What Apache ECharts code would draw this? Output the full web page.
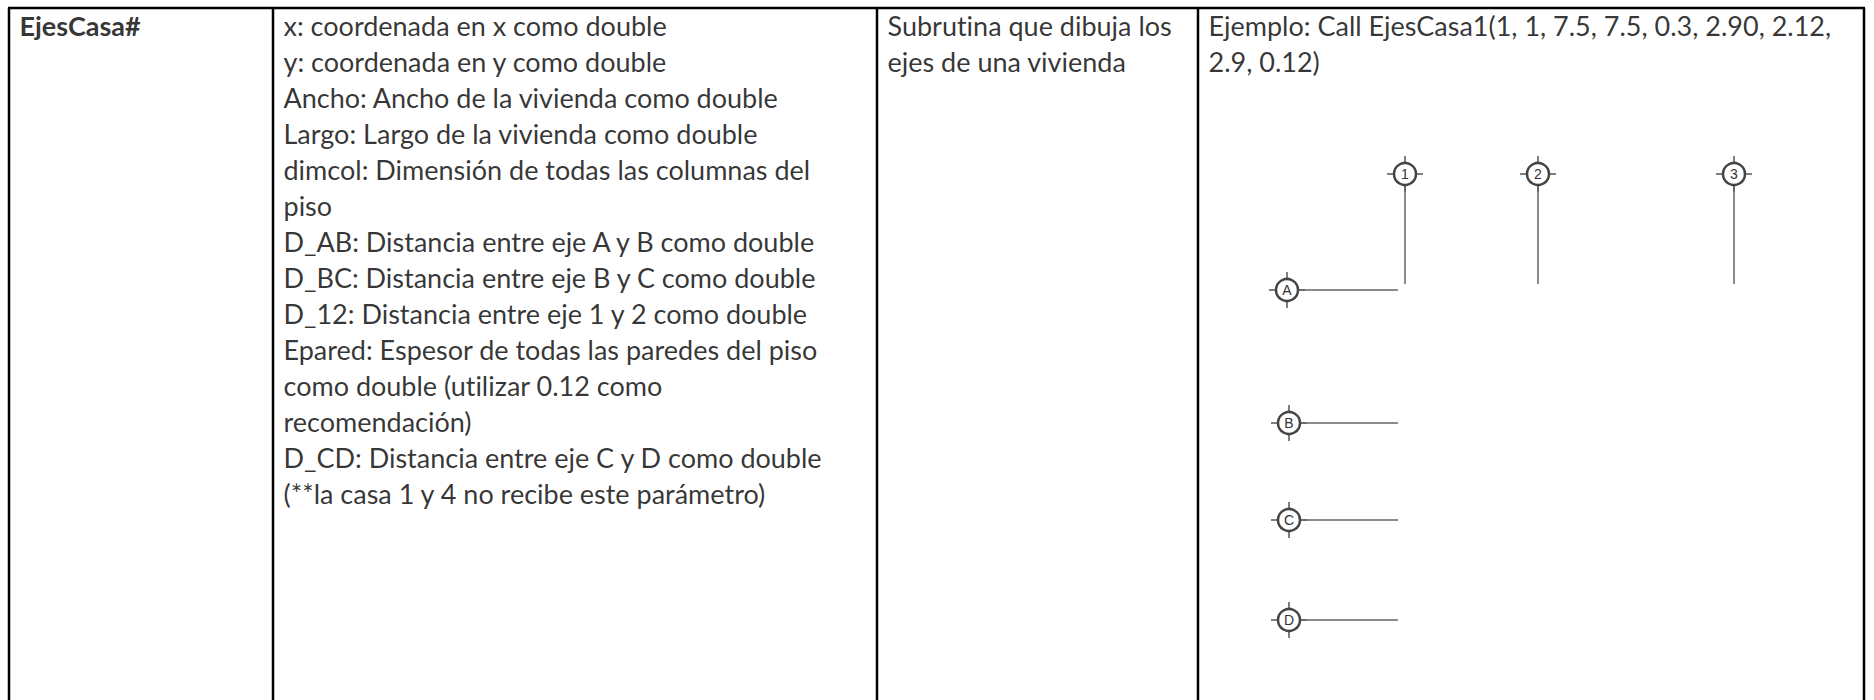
<!DOCTYPE html>
<html>
<head>
<meta charset="utf-8">
<style>html,body{margin:0;padding:0;background:#fff}#main{width:1874px;height:700px}svg text{font-variant-ligatures:none}</style>
<script src="https://cdn.jsdelivr.net/npm/echarts@6/dist/echarts.min.js"></script>
</head>
<body>
<div id="main"></div>
<script>
// cell texts, one entry per line
const nameLines = ['EjesCasa#'];
const paramLines = [
  'x: coordenada en x como double',
  'y: coordenada en y como double',
  'Ancho: Ancho de la vivienda como double',
  'Largo: Largo de la vivienda como double',
  'dimcol: Dimensión de todas las columnas del',
  'piso',
  'D_AB: Distancia entre eje A y B como double',
  'D_BC: Distancia entre eje B y C como double',
  'D_12: Distancia entre eje 1 y 2 como double',
  'Epared: Espesor de todas las paredes del piso',
  'como double (utilizar 0.12 como',
  'recomendación)',
  'D_CD: Distancia entre eje C y D como double',
  '(**la casa 1 y 4 no recibe este parámetro)'
];
const descLines = ['Subrutina que dibuja los', 'ejes de una vivienda'];
const exampleLines = ['Ejemplo: Call EjesCasa1(1, 1, 7.5, 7.5, 0.3, 2.90, 2.12,', '2.9, 0.12)'];

// table rules and drawing axes
const colRules = [9, 273, 877, 1198, 1864];
const topRule = 8;
const colText = [19, 283, 887, 1208];
const vertNames = ['1', '2', '3'];
const vertX = [1405, 1538, 1734];
const vertBubbleY = 174;
const vertEndY = 284;
const horizNames = ['A', 'B', 'C', 'D'];
const horizY = [290, 423, 520, 620];
const horizBubbleX = [1287, 1289, 1289, 1289];
const horizEndX = [1398, 1398, 1398, 1398];

const tick = 18, firstLine = 25, lineStep = 36;

function seg(list) {
  const out = [];
  list.forEach(s => { out.push([s[0], s[1]], [s[2], s[3]], null); });
  return out;
}
function textRows(lines, x) {
  return lines.map((t, i) => ({ value: [x, firstLine + i * lineStep], name: t }));
}

const tableSegs = [[colRules[0] - 1, topRule, colRules[4] + 1, topRule]];
colRules.forEach(x => tableSegs.push([x, topRule, x, 700]));

const axisSegs = [], tickSegs = [], bubbles = [];
vertX.forEach((x, i) => {
  axisSegs.push([x, vertBubbleY, x, vertEndY]);
  tickSegs.push([x - tick, vertBubbleY, x + tick, vertBubbleY], [x, vertBubbleY - tick, x, vertBubbleY + tick]);
  bubbles.push({ value: [x, vertBubbleY], name: vertNames[i] });
});
horizY.forEach((y, i) => {
  const x = horizBubbleX[i];
  axisSegs.push([x, y, horizEndX[i], y]);
  tickSegs.push([x - tick, y, x + tick, y], [x, y - tick, x, y + tick]);
  bubbles.push({ value: [x, y], name: horizNames[i] });
});

function lineSeries(data, color, width) {
  return {
    type: 'line', data: seg(data), symbol: 'none', silent: true, connectNulls: false,
    lineStyle: { color: color, width: width }
  };
}
function textSeries(data, weight) {
  return {
    type: 'scatter', data: data, symbolSize: 1, silent: true,
    itemStyle: { color: 'transparent' },
    label: {
      show: true, position: 'right', distance: 0, formatter: '{b}',
      fontFamily: 'Lato', fontSize: 27, fontWeight: weight, color: '#000'
    }
  };
}

const chart = echarts.init(document.getElementById('main'), null, { renderer: 'svg' });
chart.setOption({
  animation: false,
  backgroundColor: '#fff',
  grid: { left: 0, right: 0, top: 0, bottom: 0 },
  xAxis: { type: 'value', min: 0, max: 1874, show: false },
  yAxis: { type: 'value', min: 0, max: 700, inverse: true, show: false },
  series: [
    lineSeries(tableSegs, '#000', 2.5),
    lineSeries(tickSegs, '#555', 1.5),
    lineSeries(axisSegs, '#666', 1.5),
    {
      type: 'scatter', data: bubbles, symbol: 'circle', symbolSize: 22, silent: true, z: 5,
      itemStyle: { color: '#fff', borderColor: '#444', borderWidth: 2.5, opacity: 1 },
      label: {
        show: true, position: 'inside', formatter: '{b}',
        fontFamily: 'Liberation Sans', fontSize: 14, color: '#333'
      }
    },
    textSeries(textRows(nameLines, colText[0]), 'bold'),
    textSeries(textRows(paramLines, colText[1]), 'normal'),
    textSeries(textRows(descLines, colText[2]), 'normal'),
    textSeries(textRows(exampleLines, colText[3]), 'normal')
  ]
});
</script>
</body>
</html>
